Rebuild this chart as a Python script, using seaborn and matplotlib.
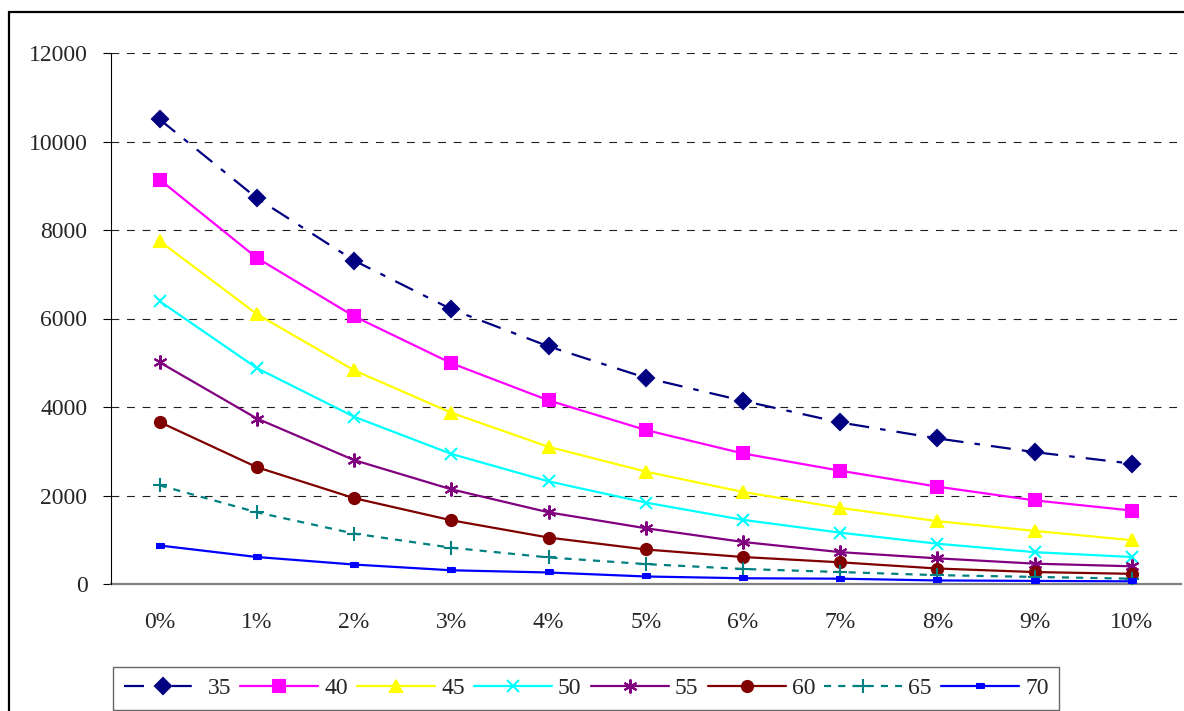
import numpy as np
import pandas as pd
import matplotlib
matplotlib.use("Agg")
import matplotlib.pyplot as plt
from matplotlib.patches import Rectangle
import seaborn as sns

# Daten
rates = ["0%", "1%", "2%", "3%", "4%", "5%", "6%", "7%", "8%", "9%", "10%"]
series_names = ["35", "40", "45", "50", "55", "60", "65", "70"]

v35 = [10500, 8720, 7310, 6210, 5370, 4660, 4140, 3650, 3290, 2980, 2720]
v40 = [9140, 7370, 6050, 4990, 4150, 3480, 2950, 2560, 2200, 1890, 1660]
v45 = [7750, 6100, 4830, 3870, 3100, 2540, 2080, 1720, 1420, 1200, 990]
v50 = [6390, 4880, 3780, 2940, 2320, 1840, 1450, 1160, 910, 720, 610]
v55 = [5010, 3740, 2800, 2140, 1620, 1260, 950, 720, 580, 460, 400]
v60 = [3660, 2640, 1940, 1440, 1050, 780, 610, 490, 350, 270, 230]
v65 = [2230, 1620, 1140, 820, 600, 450, 340, 270, 200, 160, 120]
v70 = [870, 610, 440, 310, 260, 170, 130, 120, 80, 70, 60]
values = [v35, v40, v45, v50, v55, v60, v65, v70]

colors = ["#000080", "#FF00FF", "#FFFF00", "#00FFFF", "#800080", "#800000", "#008080", "#0000FF"]
rect = [(-1, -0.45), (1, -0.45), (1, 0.45), (-1, 0.45)]
markers = ["D", "s", "^", "x", (6, 2, 0), "o", "+", rect]
msizes = [8, 8, 9, 9, 10, 8, 10, 6]
styles = [(0, (9, 5, 2.5, 5)), "-", "-", "-", "-", "-", (0, (3.2, 3.2)), "-"]

df = pd.DataFrame({
    "rate": rates * len(series_names),
    "value": np.concatenate(values),
    "series": np.repeat(series_names, len(rates)),
})

sns.set_style("white")
plt.rcParams["font.family"] = ["Liberation Serif", "DejaVu Serif"]
plt.rcParams["font.size"] = 17

fig = plt.figure(figsize=(11.84, 7.11), dpi=100)
ax = fig.add_axes([111 / 1184, 1 - 584 / 711, (1180.5 - 111) / 1184, (584 - 53) / 711])

# Rahmen um das ganze Diagramm
fig.patches.append(Rectangle((9 / 1184, -0.2), 1.2, 1.2 - 11.5 / 711,
                             transform=fig.transFigure, fill=False,
                             edgecolor="black", linewidth=1.6, zorder=0))

for i, name in enumerate(series_names):
    sub = df[df["series"] == name]
    sns.lineplot(data=sub, x="rate", y="value", ax=ax, color=colors[i],
                 marker=markers[i], markersize=msizes[i], linewidth=1.6,
                 linestyle=styles[i], markeredgecolor=colors[i],
                 markeredgewidth=1.5, label=name, sort=False, zorder=3)

# Achsen
ax.set_xlim(-0.5, 10.5)
ax.set_ylim(0, 12000)
ax.set_yticks(np.arange(0, 12001, 2000))
ax.set_xlabel("")
ax.set_ylabel("")
for s in ["top", "right"]:
    ax.spines[s].set_visible(False)
ax.spines["left"].set_color("black")
ax.spines["left"].set_linewidth(0.8)
ax.spines["bottom"].set_color("#808080")
ax.spines["bottom"].set_linewidth(1.6)
ax.spines["bottom"].set_zorder(2)

ax.set_xticks(np.arange(-0.5, 10.6, 1), minor=True)
ax.tick_params(axis="x", which="major", length=0, pad=20, labelsize=17)
ax.tick_params(axis="x", which="minor", length=6, width=1.0, color="#404040", direction="out")
ax.tick_params(axis="y", which="major", length=6, width=0.8, color="black",
               direction="out", pad=11, labelsize=17, left=True)

for y in range(2000, 12001, 2000):
    ax.axhline(y, color="#202020", linewidth=0.8, linestyle=(0, (7, 7)), zorder=1)
ax.grid(False)

# Legende
handles, labels = ax.get_legend_handles_labels()
leg = ax.legend(handles, labels, loc="upper left", bbox_to_anchor=(113 / 1184, 1 - 667 / 711),
                bbox_transform=fig.transFigure, ncol=8, frameon=True, fancybox=False,
                borderaxespad=0, handlelength=3.3, handletextpad=0.25, columnspacing=0.4,
                borderpad=0.45, fontsize=17)
leg.get_frame().set_edgecolor("#404040")
leg.get_frame().set_linewidth(1.0)

fig.savefig("out.png", dpi=100)
